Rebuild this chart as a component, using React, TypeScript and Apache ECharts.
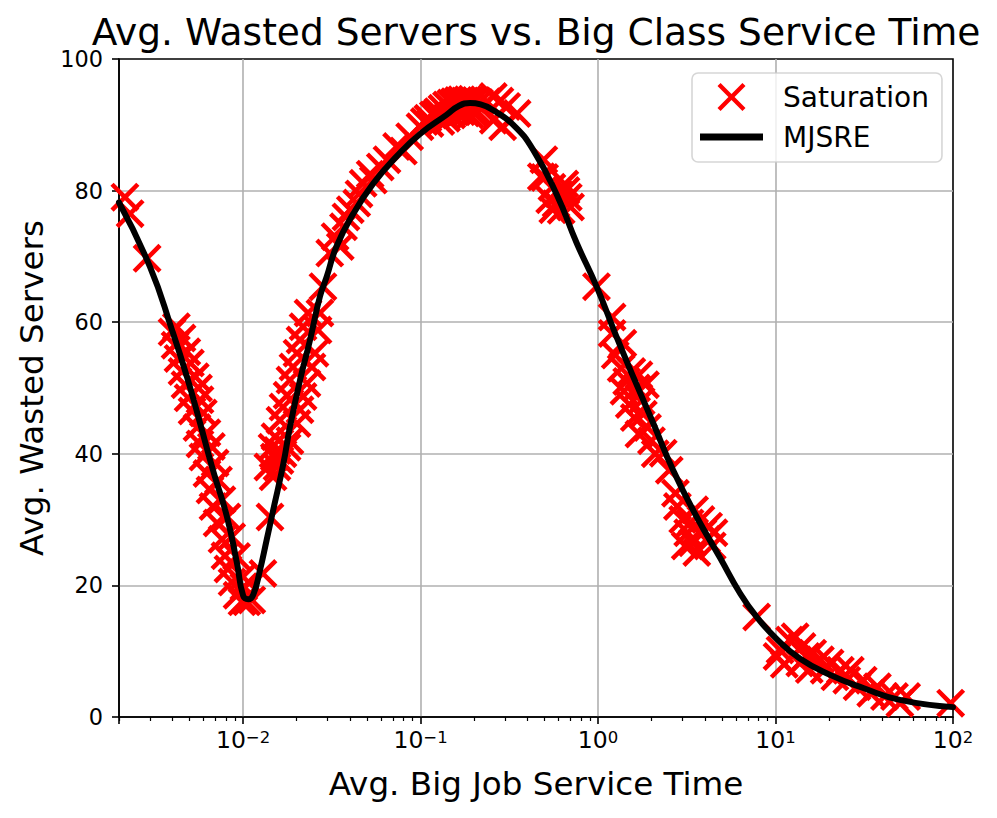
import { useEffect, useRef } from 'react';
import * as echarts from 'echarts';

const FONT = 'DejaVu Sans';

const TITLE = 'Avg. Wasted Servers vs. Big Class Service Time';
const X_NAME = 'Avg. Big Job Service Time';
const Y_NAME = 'Avg. Wasted Servers';
const SERIES_SAT = 'Saturation';
const SERIES_MJSRE = 'MJSRE';

const X_MIN = 0.002;
const X_MAX = 100;
const Y_MIN = 0;
const Y_MAX = 100;
const Y_STEP = 20;

const minorTicks = [
  0.002, 0.003, 0.004, 0.005, 0.006, 0.007, 0.008, 0.009,
  0.02, 0.03, 0.04, 0.05, 0.06, 0.07, 0.08, 0.09,
  0.2, 0.3, 0.4, 0.5, 0.6, 0.7, 0.8, 0.9,
  2, 3, 4, 5, 6, 7, 8, 9,
  20, 30, 40, 50, 60, 70, 80, 90,
];

// MJSRE curve (black line)
const mjsreCurve: [number, number][] = [
  [0.002, 78.2], [0.00299, 68.4], [0.00398, 58.8], [0.00483, 51.7], [0.00572, 44.7],
  [0.00677, 37.5], [0.00812, 30.4], [0.00924, 23.4], [0.01002, 18.4], [0.0107, 17.9],
  [0.01142, 18.6], [0.01245, 22.3], [0.01358, 26.9], [0.0148, 31.5], [0.01687, 38.5],
  [0.01838, 44.1], [0.02094, 51.2], [0.0238, 57.2], [0.02711, 63.9], [0.0296, 66.9],
  [0.0336, 71.5], [0.0418, 76.5], [0.0542, 81.1], [0.0733, 85.2], [0.0993, 88.6],
  [0.14, 91.5], [0.165, 92.9], [0.19, 93.3], [0.218, 93.1], [0.257, 92.2],
  [0.333, 90.0], [0.431, 86.2], [0.585, 79.4], [0.759, 72.0], [0.982, 65.4],
  [1.27, 57.8], [1.58, 51.7], [2.05, 44.6], [2.65, 37.5], [3.6, 30.4],
  [4.87, 24.2], [6.31, 18.8], [7.83, 15.2], [10.1, 11.9], [13.7, 8.9],
  [20.3, 6.4], [31.2, 4.4], [50.2, 2.6], [100, 1.5],
];

// Saturation markers (red x), grouped by region
const satTopLeft: [number, number][] = [
  [0.00216, 79.0], [0.00231, 76.5], [0.00288, 69.7],
];
const satDescentA: [number, number][] = [
  [0.00398, 58.5], [0.00414, 56.5], [0.0043, 54.5], [0.00453, 52.5], [0.00471, 50.5],
  [0.0049, 48.5], [0.00516, 46.5], [0.0055, 44.0], [0.00572, 41.5], [0.00594, 39.5],
  [0.00626, 37.0], [0.00651, 34.5], [0.00677, 32.0], [0.00714, 29.5], [0.00761, 27.0],
  [0.00791, 24.5], [0.00822, 22.5], [0.00867, 20.5], [0.00925, 18.5], [0.00986, 17.5],
];
const satDescentB: [number, number][] = [
  [0.00421, 59.3], [0.00453, 57.6], [0.00482, 55.5], [0.00505, 53.8], [0.00538, 51.7],
  [0.00561, 50.0], [0.00572, 48.2], [0.00597, 46.2], [0.00626, 43.2], [0.00663, 41.1],
  [0.00696, 38.6], [0.00727, 36.0], [0.0076, 33.0], [0.00812, 30.4], [0.00863, 27.4],
  [0.00919, 24.4], [0.01, 21.3],
];
const satValley: [number, number][] = [
  [0.0105, 17.5], [0.0112, 17.8], [0.0101, 19.8], [0.01294, 21.8], [0.01418, 30.4],
];
const satRiseA: [number, number][] = [
  [0.0138, 38.0], [0.01476, 36.5], [0.01553, 38.0], [0.01614, 39.0], [0.01679, 40.0],
  [0.0177, 41.0], [0.01838, 42.0], [0.01456, 41.0], [0.01514, 42.6], [0.0156, 40.5],
  [0.015, 39.5], [0.01614, 45.1], [0.01679, 47.1], [0.0177, 48.9], [0.01838, 51.2],
  [0.01911, 53.2], [0.02013, 55.3], [0.02094, 57.3], [0.02178, 59.3], [0.02323, 61.4],
];
const satRiseB: [number, number][] = [
  [0.02013, 44.6], [0.02094, 46.7], [0.02178, 48.7], [0.02291, 50.7], [0.02445, 53.2],
  [0.02542, 55.3], [0.02644, 58.8], [0.02711, 61.4],
];
const satUpper: [number, number][] = [
  [0.0282, 65.4], [0.0308, 70.5], [0.033, 73.0], [0.0353, 71.5], [0.0368, 74.5],
  [0.038, 76.0], [0.0402, 77.1], [0.0437, 78.1], [0.045, 79.5], [0.0475, 81.1],
  [0.052, 82.5], [0.0542, 81.6], [0.0593, 83.6], [0.0647, 84.7], [0.0733, 86.7],
  [0.08, 86.0], [0.0868, 88.2], [0.0993, 89.7], [0.113, 90.2], [0.123, 91.7],
];
const satPeak: [number, number][] = [
  [0.105, 90.5], [0.11, 91.0], [0.118, 91.5], [0.125, 92.0], [0.132, 92.5],
  [0.14, 93.0], [0.148, 93.3], [0.155, 93.5], [0.163, 93.7], [0.17, 93.8],
  [0.178, 93.6], [0.185, 93.8], [0.195, 93.9], [0.205, 93.7], [0.215, 93.4],
  [0.13, 90.5], [0.14, 91.0], [0.15, 91.5], [0.16, 92.0], [0.17, 92.0],
  [0.18, 91.8], [0.19, 91.5], [0.2, 91.8], [0.21, 92.0], [0.237, 93.5],
  [0.257, 94.3], [0.28, 93.6], [0.306, 92.8], [0.35, 91.7], [0.29, 89.7],
  [0.257, 90.7],
];
const satFall: [number, number][] = [
  [0.479, 82.1], [0.495, 84.7], [0.534, 78.6], [0.556, 77.1], [0.5, 82.0],
  [0.55, 80.5], [0.6, 79.5], [0.65, 81.0], [0.68, 79.0], [0.7, 77.5],
  [0.62, 77.0], [0.58, 78.0], [0.66, 80.0],
];
const satMid: [number, number][] = [
  [0.98, 65.4], [1.2, 60.8], [1.2, 58.3], [1.38, 56.8], [1.25, 55.0],
  [1.35, 53.0], [1.45, 51.0], [1.55, 52.5], [1.65, 50.0], [1.75, 48.0],
  [1.5, 47.5], [1.6, 45.5], [1.8, 46.0], [1.9, 44.0], [1.7, 43.0],
  [2.0, 42.0], [2.1, 40.0], [1.4, 49.5], [1.85, 50.5], [1.7, 52.0],
  [2.33, 40.1], [2.52, 37.5], [2.73, 34.0],
];
const satLow: [number, number][] = [
  [2.8, 32.0], [3.0, 30.0], [3.2, 28.0], [3.4, 26.5], [3.6, 25.0],
  [3.9, 28.0], [4.2, 29.0], [4.5, 28.0], [3.5, 31.5], [3.8, 30.0],
  [4.1, 27.0], [3.1, 26.0], [3.3, 29.5], [4.4, 26.0],
];
const satTail: [number, number][] = [
  [7.83, 15.2], [10.2, 9.2], [10.6, 10.2], [12.0, 11.7], [12.9, 12.2],
  [14.1, 10.7], [14.9, 9.2], [13.7, 8.2], [16.2, 9.7], [17.9, 8.7],
  [18.8, 7.1], [20.3, 8.2], [21.6, 6.1], [23.2, 7.1], [25.2, 5.6],
  [26.4, 7.1], [28.8, 4.6], [31.2, 5.6], [34.4, 3.6], [37.5, 4.6],
  [41.1, 3.1], [46.8, 3.1], [50.2, 2.1], [54.8, 3.1], [97, 2.1],
  [11.2, 8.0], [15.5, 7.2],
];

const X_SYMBOL =
  'path://M0,11L11,0L50,39L89,0L100,11L61,50L100,89L89,100L50,61L11,100L0,89L39,50Z';
const LINE_ICON = 'path://M0,0L63,0L63,7L0,7Z';

export default function App() {
  const ref = useRef<HTMLDivElement>(null);

  useEffect(() => {
    if (!ref.current) return;
    const chart = echarts.init(ref.current, null, { renderer: 'svg' });

    const satData = [
      ...satTopLeft, ...satDescentA, ...satDescentB, ...satValley, ...satRiseA,
      ...satRiseB, ...satUpper, ...satPeak, ...satFall, ...satMid, ...satLow, ...satTail,
    ];

    const option: any = {
      animation: false,
      backgroundColor: '#fff',
      textStyle: { fontFamily: FONT },
      title: {
        text: TITLE,
        left: 536,
        top: 13,
        padding: 0,
        textAlign: 'center',
        textStyle: { fontFamily: FONT, fontSize: 37.5, fontWeight: 'normal', color: '#000' },
      },
      grid: {
        left: 119,
        right: 44,
        top: 59,
        bottom: 101,
        containLabel: false,
        show: true,
        borderColor: '#000',
        borderWidth: 1.6,
        backgroundColor: 'transparent',
      },
      legend: {
        left: 692,
        top: 73,
        orient: 'vertical',
        itemWidth: 63,
        itemHeight: 28,
        itemGap: 12,
        padding: [10, 13, 11, 8],
        backgroundColor: 'rgba(255,255,255,0.8)',
        borderColor: 'rgba(204,204,204,0.8)',
        borderWidth: 1.6,
        borderRadius: 6,
        textStyle: { fontFamily: FONT, fontSize: 28, color: '#000', padding: [0, 0, 0, 15] },
        data: [
          { name: SERIES_SAT, icon: X_SYMBOL },
          { name: SERIES_MJSRE, icon: LINE_ICON, itemStyle: { color: '#000' } },
        ],
      },
      xAxis: [
        {
          type: 'log',
          logBase: 10,
          min: X_MIN,
          max: X_MAX,
          name: X_NAME,
          nameLocation: 'middle',
          nameGap: 50,
          nameTextStyle: { fontFamily: FONT, fontSize: 32.6, color: '#000' },
          axisLine: { show: true, lineStyle: { color: '#000', width: 1.6 } },
          axisTick: { show: true, length: 7, lineStyle: { color: '#000', width: 1.6 } },
          axisLabel: {
            margin: 12,
            color: '#000',
            formatter: (v: number) => {
              const e = Math.log10(v);
              const r = Math.round(e);
              if (Math.abs(e - r) > 1e-6) return '';
              return `{base|10}{sup|${r < 0 ? '\u2212' : ''}${Math.abs(r)}}`;
            },
            rich: {
              base: { fontFamily: FONT, fontSize: 23.5, lineHeight: 23, verticalAlign: 'bottom', color: '#000' },
              sup: { fontFamily: FONT, fontSize: 16.5, lineHeight: 17, verticalAlign: 'top', padding: [0, 0, 9, 0], color: '#000' },
            },
          },
          splitLine: { show: true, showMinLine: false, showMaxLine: false, lineStyle: { color: '#b0b0b0', width: 1.6 } },
        },
        {
          type: 'log',
          logBase: 10,
          min: X_MIN,
          max: X_MAX,
          position: 'bottom',
          axisLine: { show: false },
          axisLabel: { show: false },
          splitLine: { show: false },
          axisTick: { show: true, length: 4, customValues: minorTicks, lineStyle: { color: '#000', width: 1.2 } },
        },
      ],
      yAxis: {
        type: 'value',
        min: Y_MIN,
        max: Y_MAX,
        interval: Y_STEP,
        name: Y_NAME,
        nameLocation: 'middle',
        nameGap: 71,
        nameTextStyle: { fontFamily: FONT, fontSize: 32.6, color: '#000' },
        axisLine: { show: true, lineStyle: { color: '#000', width: 1.6 } },
        axisTick: { show: true, length: 7, lineStyle: { color: '#000', width: 1.6 } },
        axisLabel: { margin: 16, color: '#000', fontFamily: FONT, fontSize: 22.4 },
        splitLine: { show: true, showMinLine: false, showMaxLine: false, lineStyle: { color: '#b0b0b0', width: 1.6 } },
      },
      series: [
        {
          name: SERIES_SAT,
          type: 'scatter',
          xAxisIndex: 0,
          symbol: X_SYMBOL,
          symbolSize: 29,
          symbolKeepAspect: true,
          itemStyle: { color: '#ff0000', opacity: 1 },
          data: satData,
        },
        {
          name: SERIES_MJSRE,
          type: 'line',
          xAxisIndex: 0,
          symbol: 'none',
          showSymbol: false,
          smooth: 0.5,
          lineStyle: { color: '#000', width: 6, join: 'round', cap: 'round' },
          itemStyle: { color: '#000' },
          data: mjsreCurve,
        },
      ],
    };

    chart.setOption(option);
    return () => chart.dispose();
  }, []);

  return (
    <div
      ref={ref}
      style={{ position: 'fixed', left: 0, top: 0, width: 997, height: 818, background: '#fff' }}
    />
  );
}
